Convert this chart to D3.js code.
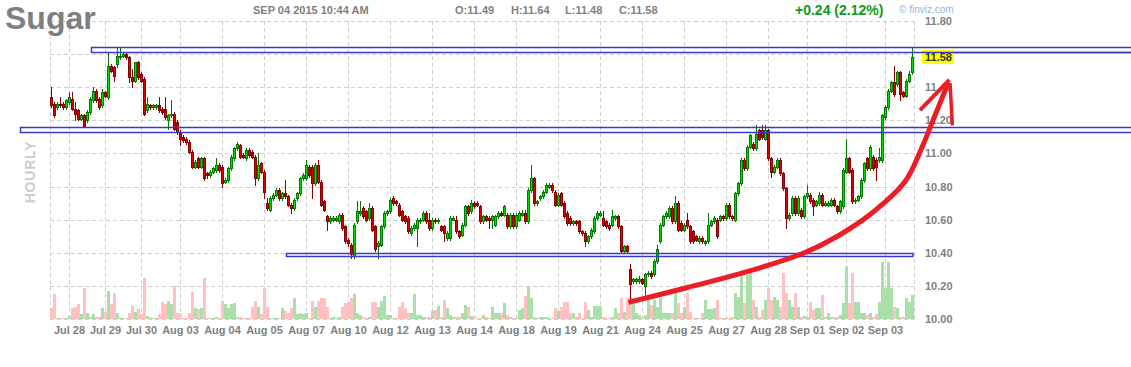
<!DOCTYPE html>
<html><head><meta charset="utf-8">
<script src="https://cdn.jsdelivr.net/npm/d3@7"></script>
<style>
body{margin:0;background:#fff}
svg{display:block}
text{font-family:"Liberation Sans",Arial,Helvetica,sans-serif}
</style>
</head><body>
<svg id="chart" width="1131" height="367"></svg>
<script>
// ---------- DATA (hourly candles, Sugar, Jul 27 – Sep 04 2015) ----------
const open=[
11.34,11.30,11.28,11.30,11.30,11.28,11.31,11.33,11.27,11.26,
11.21,11.23,11.20,11.25,11.32,11.38,11.33,11.29,11.37,11.34,
11.53,11.52,11.54,11.58,11.59,11.60,11.58,11.46,11.44,11.55,
11.48,11.45,11.26,11.29,11.28,11.28,11.29,11.27,11.27,11.20,
11.23,11.24,11.19,11.13,11.10,11.09,11.07,11.01,10.92,10.97,
10.92,10.97,10.88,10.87,10.89,10.90,10.93,10.92,10.83,10.84,
10.91,10.97,11.03,11.05,10.99,10.97,11.02,11.01,10.98,10.85,
10.94,10.89,10.70,10.66,10.73,10.75,10.78,10.73,10.76,10.74,
10.69,10.67,10.73,10.76,10.85,10.85,10.92,10.92,10.82,10.93,
10.83,10.71,10.62,10.59,10.60,10.60,10.59,10.63,10.56,10.48,
10.45,10.38,10.59,10.64,10.67,10.65,10.61,10.67,10.56,10.44,
10.45,10.56,10.64,10.65,10.73,10.71,10.69,10.65,10.62,10.61,
10.52,10.55,10.55,10.59,10.60,10.64,10.60,10.55,10.60,10.59,
10.56,10.56,10.49,10.49,10.60,10.60,10.53,10.51,10.57,10.68,
10.65,10.70,10.70,10.68,10.59,10.62,10.61,10.60,10.57,10.62,
10.64,10.63,10.63,10.56,10.63,10.56,10.60,10.63,10.64,10.59,
10.78,10.85,10.70,10.73,10.74,10.77,10.80,10.81,10.77,10.69,
10.76,10.70,10.64,10.61,10.58,10.59,10.59,10.53,10.52,10.47,
10.50,10.53,10.61,10.63,10.61,10.59,10.57,10.57,10.61,10.62,
10.56,10.41,10.44,10.30,10.23,10.23,10.23,10.24,10.20,10.27,
10.28,10.27,10.35,10.47,10.57,10.62,10.62,10.67,10.59,10.70,
10.58,10.54,10.60,10.56,10.53,10.50,10.47,10.49,10.46,10.47,
10.57,10.59,10.60,10.60,10.62,10.61,10.69,10.62,10.60,10.76,
10.82,10.96,10.91,11.04,11.06,11.03,11.14,11.14,11.09,11.14,
10.97,10.89,10.92,10.96,10.88,10.79,10.61,10.64,10.73,10.64,
10.66,10.62,10.74,10.75,10.72,10.69,10.70,10.75,10.69,10.69,
10.69,10.72,10.68,10.65,10.68,10.89,10.97,10.90,10.71,10.72,
10.74,10.84,10.97,10.91,10.98,10.96,10.96,10.96,11.22,11.28,
11.38,11.43,11.42,11.49,11.37,11.35,11.44,11.49];
const high=[
11.40,11.31,11.31,11.34,11.31,11.33,11.37,11.37,11.31,11.27,
11.24,11.24,11.26,11.34,11.40,11.39,11.34,11.39,11.38,11.61,
11.54,11.53,11.64,11.64,11.61,11.61,11.59,11.51,11.55,11.56,
11.49,11.46,11.34,11.30,11.30,11.30,11.34,11.28,11.34,11.24,
11.32,11.25,11.20,11.14,11.11,11.10,11.08,11.02,10.96,10.98,
10.98,10.98,10.89,10.90,10.92,10.97,10.94,10.93,10.85,10.92,
10.99,11.04,11.07,11.06,11.00,11.03,11.03,11.02,10.99,11.00,
10.95,10.90,10.73,10.74,10.76,10.79,10.79,10.77,10.84,10.75,
10.70,10.73,10.77,10.86,10.88,10.96,10.93,10.93,10.94,10.96,
10.84,10.72,10.63,10.62,10.62,10.62,10.64,10.64,10.57,10.49,
10.46,10.58,10.71,10.71,10.68,10.66,10.70,10.68,10.57,10.47,
10.57,10.65,10.66,10.73,10.74,10.72,10.70,10.66,10.63,10.62,
10.56,10.58,10.61,10.61,10.65,10.65,10.64,10.61,10.61,10.61,
10.57,10.57,10.53,10.62,10.62,10.62,10.54,10.58,10.69,10.69,
10.72,10.71,10.71,10.69,10.63,10.63,10.62,10.63,10.63,10.65,
10.65,10.69,10.64,10.64,10.64,10.64,10.65,10.66,10.66,10.79,
10.93,10.86,10.72,10.75,10.78,10.82,10.82,10.82,10.78,10.76,
10.77,10.71,10.65,10.62,10.60,10.60,10.60,10.54,10.53,10.51,
10.55,10.62,10.65,10.65,10.65,10.60,10.58,10.66,10.63,10.63,
10.57,10.45,10.45,10.33,10.25,10.25,10.26,10.25,10.28,10.29,
10.29,10.36,10.45,10.58,10.63,10.65,10.68,10.68,10.74,10.71,
10.59,10.58,10.64,10.57,10.54,10.51,10.50,10.50,10.48,10.64,
10.60,10.62,10.61,10.63,10.63,10.70,10.70,10.63,10.77,10.83,
10.97,10.97,11.05,11.12,11.07,11.17,11.15,11.17,11.17,11.15,
10.98,10.93,10.97,10.97,10.89,10.80,10.64,10.74,10.74,10.74,
10.67,10.75,10.81,10.76,10.73,10.72,10.77,10.76,10.71,10.71,
10.73,10.73,10.69,10.72,10.91,11.09,10.98,10.91,10.73,10.75,
10.85,10.95,10.98,11.05,10.99,10.97,11.03,11.24,11.29,11.39,
11.44,11.53,11.50,11.50,11.38,11.45,11.50,11.64];
const low=[
11.28,11.22,11.27,11.28,11.27,11.27,11.30,11.26,11.20,11.20,
11.20,11.16,11.19,11.24,11.31,11.31,11.27,11.28,11.34,11.33,
11.49,11.44,11.52,11.57,11.58,11.57,11.43,11.40,11.43,11.45,
11.43,11.23,11.25,11.27,11.27,11.27,11.25,11.24,11.21,11.15,
11.22,11.14,11.12,11.05,11.07,11.06,11.00,10.91,10.91,10.91,
10.91,10.84,10.85,10.86,10.88,10.89,10.89,10.80,10.82,10.83,
10.90,10.96,11.02,10.97,10.97,10.96,10.98,10.97,10.81,10.84,
10.88,10.73,10.66,10.65,10.72,10.74,10.72,10.72,10.73,10.68,
10.64,10.66,10.72,10.75,10.84,10.84,10.86,10.73,10.81,10.82,
10.68,10.65,10.54,10.58,10.59,10.59,10.58,10.54,10.46,10.44,
10.37,10.37,10.58,10.63,10.61,10.59,10.60,10.53,10.41,10.37,
10.44,10.55,10.63,10.64,10.69,10.69,10.62,10.59,10.58,10.52,
10.51,10.54,10.44,10.58,10.59,10.58,10.54,10.54,10.58,10.58,
10.53,10.47,10.48,10.48,10.60,10.52,10.49,10.50,10.56,10.63,
10.64,10.67,10.68,10.58,10.58,10.59,10.55,10.55,10.56,10.61,
10.62,10.62,10.55,10.55,10.55,10.55,10.59,10.62,10.58,10.58,
10.77,10.69,10.69,10.72,10.73,10.76,10.79,10.77,10.68,10.68,
10.68,10.61,10.57,10.57,10.57,10.57,10.52,10.51,10.44,10.46,
10.49,10.52,10.60,10.62,10.56,10.55,10.54,10.56,10.60,10.55,
10.40,10.40,10.40,10.12,10.22,10.22,10.22,10.21,10.14,10.26,
10.25,10.26,10.34,10.46,10.56,10.61,10.61,10.58,10.58,10.53,
10.53,10.53,10.55,10.46,10.46,10.47,10.46,10.46,10.45,10.46,
10.56,10.58,10.49,10.59,10.60,10.60,10.61,10.60,10.59,10.75,
10.81,10.90,10.90,11.03,11.02,11.02,11.08,11.09,11.08,10.96,
10.86,10.88,10.91,10.87,10.78,10.55,10.60,10.63,10.63,10.63,
10.61,10.61,10.73,10.70,10.63,10.68,10.69,10.68,10.68,10.68,
10.68,10.68,10.64,10.64,10.67,10.88,10.88,10.70,10.70,10.71,
10.73,10.83,10.90,10.90,10.90,10.84,10.95,10.95,11.21,11.27,
11.37,11.35,11.41,11.32,11.34,11.34,11.43,11.48];
const close=[
11.29,11.23,11.30,11.29,11.28,11.32,11.34,11.27,11.24,11.21,
11.23,11.16,11.25,11.33,11.38,11.32,11.28,11.37,11.35,11.53,
11.50,11.47,11.59,11.59,11.60,11.58,11.46,11.44,11.55,11.46,
11.44,11.24,11.30,11.28,11.29,11.29,11.26,11.25,11.22,11.23,
11.24,11.15,11.13,11.09,11.08,11.07,11.01,10.92,10.95,10.92,
10.97,10.85,10.87,10.89,10.91,10.93,10.90,10.82,10.84,10.91,
10.98,11.03,11.06,10.98,10.98,11.02,10.99,10.98,10.85,10.93,
10.89,10.77,10.67,10.73,10.75,10.78,10.73,10.76,10.74,10.69,
10.67,10.72,10.76,10.85,10.87,10.93,10.87,10.82,10.93,10.83,
10.69,10.66,10.59,10.61,10.61,10.61,10.63,10.55,10.47,10.46,
10.39,10.57,10.65,10.65,10.62,10.60,10.67,10.54,10.42,10.46,
10.56,10.64,10.65,10.72,10.70,10.70,10.63,10.60,10.59,10.53,
10.55,10.57,10.60,10.60,10.64,10.59,10.55,10.60,10.59,10.60,
10.54,10.52,10.52,10.61,10.61,10.53,10.50,10.57,10.68,10.64,
10.70,10.68,10.69,10.59,10.62,10.60,10.60,10.62,10.62,10.64,
10.63,10.68,10.56,10.63,10.56,10.63,10.64,10.64,10.59,10.78,
10.85,10.70,10.71,10.74,10.77,10.81,10.81,10.78,10.69,10.75,
10.69,10.62,10.58,10.58,10.59,10.58,10.53,10.52,10.47,10.50,
10.54,10.61,10.64,10.64,10.57,10.56,10.55,10.62,10.62,10.56,
10.41,10.44,10.41,10.21,10.24,10.24,10.24,10.22,10.27,10.28,
10.26,10.35,10.42,10.57,10.62,10.64,10.67,10.59,10.70,10.54,
10.54,10.57,10.56,10.47,10.47,10.48,10.49,10.47,10.47,10.57,
10.59,10.61,10.50,10.62,10.61,10.69,10.62,10.61,10.76,10.82,
10.96,10.91,11.04,11.11,11.03,11.12,11.09,11.10,11.14,10.97,
10.89,10.92,10.96,10.88,10.79,10.61,10.63,10.73,10.64,10.73,
10.62,10.74,10.76,10.71,10.68,10.71,10.75,10.69,10.70,10.70,
10.72,10.69,10.65,10.71,10.90,10.97,10.89,10.71,10.72,10.74,
10.84,10.94,10.91,11.04,10.91,10.92,10.98,11.23,11.28,11.38,
11.43,11.36,11.49,11.36,11.35,11.44,11.48,11.58];
const volume=[
11,25,1,1,1,1,3,11,12,15,
5,31,6,2,5,2,2,11,7,28,
15,26,6,1,1,1,6,13,7,10,
5,41,3,2,1,1,5,17,15,18,
15,33,6,6,1,1,6,27,11,10,
11,41,1,1,1,2,1,18,15,11,
15,16,2,2,1,1,1,12,18,12,
5,31,12,1,1,1,1,11,8,6,
11,21,5,6,5,6,1,18,12,18,
21,21,12,1,2,1,2,12,16,17,
21,25,6,4,2,1,2,17,17,12,
18,23,4,4,1,1,12,17,11,6,
6,25,4,4,2,2,2,8,9,13,
2,19,11,4,2,2,2,6,14,12,
3,3,1,1,4,2,1,12,6,6,
6,16,4,2,1,1,9,11,23,33,
21,2,1,2,2,2,1,1,11,8,
12,17,17,6,6,2,6,1,17,9,
2,13,13,13,2,1,1,2,11,6,
21,7,21,22,21,6,4,2,4,22,
14,19,12,21,6,6,6,6,26,16,
6,12,26,7,1,1,1,6,19,10,
10,11,19,1,1,1,1,2,26,22,
44,16,44,46,19,12,2,9,19,31,
19,22,19,12,46,26,19,12,26,12,
2,3,2,17,9,11,11,24,2,6,
2,2,2,4,16,53,16,46,17,17,
6,6,4,6,2,5,17,57,31,57,
31,12,11,2,2,21,17,24];

const tickIndex=[6,18,30,43,57,71,85,99,113,127,141,155,169,183,197,211,225,239,252,265,278];
const tickLabels=["Jul 28","Jul 29","Jul 30","Aug 03","Aug 04","Aug 05","Aug 07","Aug 10","Aug 12","Aug 13","Aug 14","Aug 18","Aug 19","Aug 21","Aug 24","Aug 25","Aug 27","Aug 28","Sep 01","Sep 02","Sep 03"];
const priceGrid=[11.8,11.6,11.4,11.2,11.0,10.8,10.6,10.4,10.2,10.0];
const priceLabels=[11.8,11.4,11.2,11.0,10.8,10.6,10.4,10.2,10.0];
const lastPrice=11.58;
const header={title:"Sugar",date:"SEP 04 2015 10:44 AM",o:"O:11.49",h:"H:11.64",l:"L:11.48",c:"C:11.58",chg:"+0.24 (2.12%)"};
// hand-drawn annotations (candle index / price)
const levelBoxes=[
  {from:13.2,to:380,top:11.64,bottom:11.61},
  {from:-10.5,to:380,top:11.157,bottom:11.127},
  {from:78.2,to:287,top:10.40,bottom:10.381}
];
const arrowCurve=[[192.3,10.10],[212,10.19],[234.5,10.30],[251,10.40],[262,10.50],[273.5,10.64],[284.5,10.83],[290,11.03],[294.5,11.23],[299,11.43]];
const arrowBarbL=[[289.5,11.262],[299.3,11.444]];
const arrowBarbR=[[299.5,11.425],[300.3,11.17]];

// ---------- DRAW ----------
const svg=d3.select("#chart");
const n=close.length;
const x=d3.scaleLinear().domain([-0.5,n-0.5]).range([50,914]);
const y=d3.scaleLinear().domain([10,11.8]).range([319,21]);
const v=d3.scaleLinear().domain([0,60]).range([319,259]);
const crisp=p=>Math.round(p)+0.5;

const grid=svg.append("g").attr("stroke","#cfcfcf").attr("stroke-dasharray","4,3").attr("stroke-width",1);
grid.selectAll("line.h").data(priceGrid).join("line").attr("class","h")
  .attr("x1",x(-0.5)).attr("x2",x(n-0.5)).attr("y1",d=>crisp(y(d))).attr("y2",d=>crisp(y(d)));
grid.selectAll("line.v").data([-0.5,...tickIndex,n-0.5]).join("line").attr("class","v")
  .attr("x1",d=>Math.floor(x(d))+0.5).attr("x2",d=>Math.floor(x(d))+0.5).attr("y1",y(11.8)).attr("y2",y(10));

const idx=d3.range(n);
const up=i=>close[i]>=open[i];

// volume
svg.append("g").selectAll("rect").data(idx).join("rect")
  .attr("x",i=>x(i)-1.5).attr("width",3)
  .attr("y",i=>Math.round(v(volume[i]))).attr("height",i=>319-Math.round(v(volume[i])))
  .attr("fill",i=>up(i)?"#aadfaa":"#ffc1c1");

// candles
const cg=svg.append("g");
cg.selectAll("line").data(idx).join("line")
  .attr("x1",i=>x(i)).attr("x2",i=>x(i))
  .attr("y1",i=>Math.round(y(high[i]))).attr("y2",i=>Math.round(y(low[i]))+1)
  .attr("stroke",i=>up(i)?"#007a00":"#8a0000").attr("stroke-width",1);
cg.selectAll("rect").data(idx).join("rect")
  .attr("x",i=>x(i)-1).attr("width",2)
  .attr("y",i=>crisp(y(Math.max(open[i],close[i]))))
  .attr("height",i=>Math.max(1,Math.round(y(Math.min(open[i],close[i])))-Math.round(y(Math.max(open[i],close[i])))))
  .attr("fill",i=>up(i)?"#00e000":"#e00000")
  .attr("stroke",i=>up(i)?"#007a00":"#8a0000").attr("stroke-width",1);

// right axis labels
const lab=svg.append("g").attr("font-size",11).attr("font-weight","bold").attr("fill","#7f7f7f");
lab.selectAll("text.p").data(priceLabels).join("text").attr("class","p")
  .attr("x",925).attr("y",d=>y(d)+4).text(d=>d.toFixed(2));
// bottom axis labels
lab.selectAll("text.t").data(tickIndex).join("text").attr("class","t")
  .attr("x",d=>x(d)).attr("y",334).attr("text-anchor","middle").text((d,i)=>tickLabels[i]);

// annotation boxes
svg.append("g").selectAll("rect").data(levelBoxes).join("rect")
  .attr("x",d=>Math.round(x(d.from))+0.5).attr("width",d=>x(d.to)-x(d.from))
  .attr("y",d=>Math.round(y(d.top))+0.5).attr("height",d=>Math.round(y(d.bottom))-Math.round(y(d.top)))
  .attr("fill","none").attr("stroke","#3a3ac8").attr("stroke-width",1.5);

// last price tag
const ly=y(lastPrice);
svg.append("rect").attr("x",922).attr("y",Math.round(ly)-7).attr("width",32).attr("height",14).attr("fill","#ffff00");
svg.append("text").attr("x",925).attr("y",ly+4).attr("font-size",11).attr("font-weight","bold").attr("fill","#333").text(lastPrice.toFixed(2));
svg.append("line").attr("x1",922).attr("x2",1131).attr("y1",Math.round(y(levelBoxes[0].bottom))+0.5).attr("y2",Math.round(y(levelBoxes[0].bottom))+0.5)
  .attr("stroke","#3a3ac8").attr("stroke-width",1.5);

// red arrow
const ln=d3.line().x(d=>x(d[0])).y(d=>y(d[1]));
svg.append("path").attr("d",ln.curve(d3.curveCatmullRom)(arrowCurve)).attr("fill","none").attr("stroke","#ee1c25").attr("stroke-width",5);
svg.append("path").attr("d",ln.curve(d3.curveLinear)(arrowBarbL)).attr("fill","none").attr("stroke","#ee1c25").attr("stroke-width",4);
svg.append("path").attr("d",ln.curve(d3.curveLinear)(arrowBarbR)).attr("fill","none").attr("stroke","#ee1c25").attr("stroke-width",3.5);

// header
svg.append("text").attr("x",5).attr("y",29).attr("font-size",32).attr("font-weight","bold").attr("fill","#7f7f7f").text(header.title);
const hd=svg.append("g").attr("font-size",11).attr("font-weight","bold").attr("fill","#7f7f7f");
hd.append("text").attr("x",253).attr("y",14).text(header.date);
hd.append("text").attr("x",455).attr("y",14).text(header.o);
hd.append("text").attr("x",511).attr("y",14).text(header.h);
hd.append("text").attr("x",565).attr("y",14).text(header.l);
hd.append("text").attr("x",619).attr("y",14).text(header.c);
svg.append("text").attr("x",795).attr("y",15).attr("font-size",14).attr("font-weight","bold").attr("fill","#139a13").text(header.chg);
svg.append("text").attr("x",899).attr("y",13).attr("font-size",10).attr("fill","#8fb6e3").text("\u00a9 finviz.com");
svg.append("text").attr("transform","translate(35,172) rotate(-90)").attr("text-anchor","middle")
  .attr("font-size",14).attr("font-weight","bold").attr("letter-spacing",0.8).attr("fill","#cdcdcd").text("HOURLY");
</script>
</body></html>
